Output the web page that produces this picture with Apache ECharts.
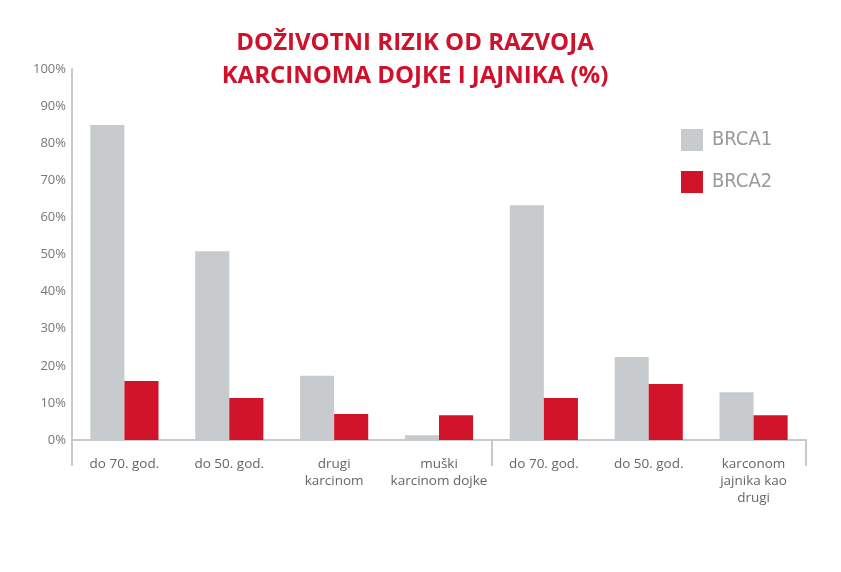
<!DOCTYPE html><html><head><meta charset="utf-8"><script src="https://cdn.jsdelivr.net/npm/echarts@6/dist/echarts.min.js"></script></head><body style="margin:0"><div id="c" style="width:841px;height:572px"></div><script>
const categories=["do 70. god.","do 50. god.","drugi\nkarcinom","muški\nkarcinom dojke","do 70. god.","do 50. god.","karconom\njajnika kao\ndrugi"];
const brca1=[84.9,50.9,17.3,1.3,63.3,22.4,12.9];
const brca2=[15.9,11.3,7.0,6.7,11.3,15.1,6.7];
const c=echarts.init(document.getElementById('c'));
c.setOption({
 title:{text:'DOŽIVOTNI RIZIK OD RAZVOJA\nKARCINOMA DOJKE I JAJNIKA (%)',left:410,top:22,textAlign:'center',textStyle:{color:'#d0112b',fontSize:24,fontWeight:'bold',fontFamily:'Open Sans',lineHeight:33}},
 legend:{orient:'vertical',left:676,top:124,itemWidth:22,itemHeight:22,itemGap:20,icon:'rect',textStyle:{color:'#999',fontSize:20,fontFamily:'Liberation Sans Narrow, DejaVu Sans Condensed',padding:[0,0,0,4]}},
 grid:{left:72,right:35,top:69,bottom:132},
 xAxis:{type:'category',data:categories,axisLine:{lineStyle:{color:'#c6cacc',width:2}},
  axisTick:{show:true,length:26,interval:function(i){return i===0||i===4||i===7;},lineStyle:{color:'#c6cacc',width:2}},
  axisLabel:{color:'#666',fontSize:13.5,fontFamily:'Open Sans',lineHeight:17,margin:16,interval:0}},
 yAxis:{type:'value',min:0,max:100,interval:10,splitLine:{show:false},axisLine:{show:true,lineStyle:{color:'#c6cacc',width:2}},
  axisLabel:{formatter:'{value}%',color:'#777',fontSize:13,fontFamily:'Open Sans',margin:6,padding:[0,0,14,0]}},
 series:[
  {name:'BRCA1',type:'bar',data:brca1,itemStyle:{color:'#c7cbcd'},barGap:'0%',barCategoryGap:'35%'},
  {name:'BRCA2',type:'bar',data:brca2,itemStyle:{color:'#d2142a'}}
 ]});
</script></body></html>
